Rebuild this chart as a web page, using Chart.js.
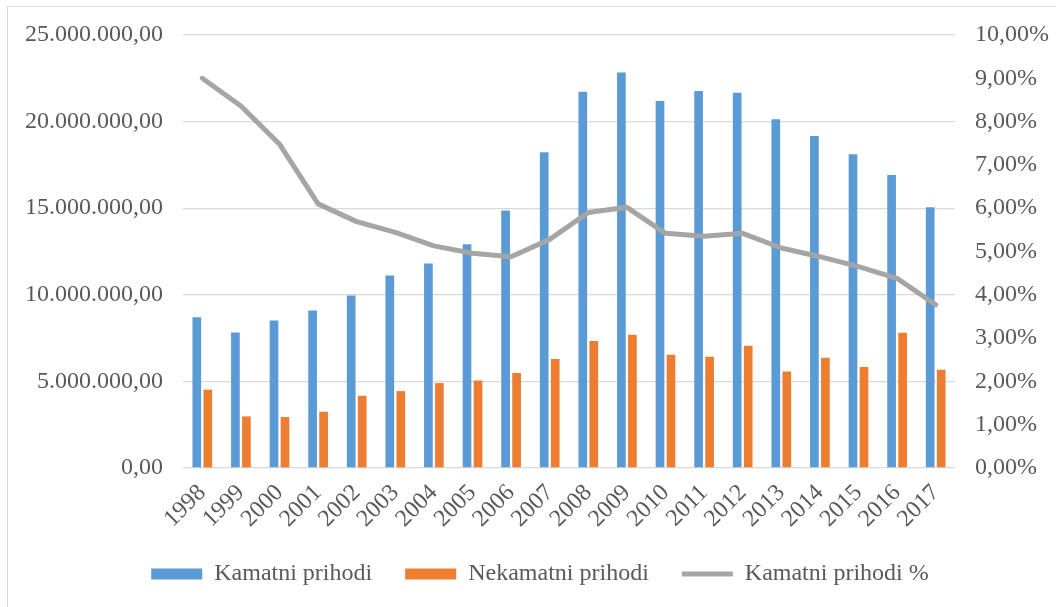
<!DOCTYPE html>
<html>
<head>
<meta charset="utf-8">
<script src="https://cdn.jsdelivr.net/npm/chart.js@4/dist/chart.umd.min.js"></script>
<style>
  html, body { margin: 0; padding: 0; background: #fff; overflow: hidden; }
  #frame { position: absolute; left: 7px; top: 6px; width: 1100px; height: 700px;
           border-left: 1.5px solid #d9d9d9; border-top: 1.5px solid #d9d9d9; }
  #wrap { position: absolute; left: 0; top: 0; width: 1056px; height: 607px; }
</style>
</head>
<body>
<div id="frame"></div>
<div id="wrap"><canvas id="chart-prihodi"></canvas></div>
<script>
const years = ['1998', '1999', '2000', '2001', '2002', '2003', '2004', '2005', '2006', '2007',
               '2008', '2009', '2010', '2011', '2012', '2013', '2014', '2015', '2016', '2017'];

const kamatniPrihodi = [8710000, 7820000, 8520000, 9090000, 9960000, 11110000, 11810000, 12920000, 14860000, 18230000,
                        21730000, 22830000, 21190000, 21770000, 21670000, 20140000, 19170000, 18120000, 16920000, 15060000];

const nekamatniPrihodi = [4520000, 2980000, 2940000, 3250000, 4170000, 4440000, 4900000, 5050000, 5480000, 6290000,
                          7330000, 7690000, 6540000, 6420000, 7060000, 5570000, 6360000, 5830000, 7810000, 5670000];

// share of interest income, in percent
const kamatniPrihodiPct = [9.00, 8.36, 7.48, 6.10, 5.69, 5.44, 5.13, 4.96, 4.88, 5.28,
                           5.90, 6.02, 5.42, 5.35, 5.42, 5.08, 4.88, 4.65, 4.38, 3.77];

const labelFont = { family: "'Liberation Serif', 'Times New Roman', serif", size: 24 };
const textColor = '#595959';

const fmtAmount = (v) => {
    const whole = Math.round(v).toString().replace(/\B(?=(\d{3})+(?!\d))/g, '.');
    return whole + ',00';
};
const fmtPct = (v) => v.toFixed(2).replace('.', ',') + '%';

new Chart(document.getElementById('chart-prihodi'), {
    type: 'bar',
    data: {
        labels: years,
        datasets: [
            {
                type: 'line',
                label: 'Kamatni prihodi %',
                data: kamatniPrihodiPct,
                yAxisID: 'yPct',
                borderColor: '#a5a5a5',
                backgroundColor: '#a5a5a5',
                borderWidth: 5,
                pointRadius: 0,
                tension: 0,
                borderCapStyle: 'round',
                borderJoinStyle: 'round',
                order: 0
            },
            {
                label: 'Kamatni prihodi',
                data: kamatniPrihodi,
                yAxisID: 'y',
                backgroundColor: '#5b9bd5',
                categoryPercentage: 0.57,
                barPercentage: 0.79,
                order: 1
            },
            {
                label: 'Nekamatni prihodi',
                data: nekamatniPrihodi,
                yAxisID: 'y',
                backgroundColor: '#ed7d31',
                categoryPercentage: 0.57,
                barPercentage: 0.79,
                order: 1
            }
        ]
    },
    options: {
        responsive: true,
        maintainAspectRatio: false,
        animation: false,
        layout: { padding: { top: 35, left: 24, right: 0, bottom: 11 } },
        plugins: {
            tooltip: { enabled: false },
            legend: {
                position: 'bottom',
                labels: {
                    font: labelFont,
                    color: textColor,
                    usePointStyle: true,
                    pointStyleWidth: 51,
                    boxHeight: 11,
                    padding: 33,
                    sort: (a, b) => b.datasetIndex === 0 ? -1 : (a.datasetIndex === 0 ? 1 : a.datasetIndex - b.datasetIndex),
                    generateLabels: (chart) => {
                        const items = Chart.defaults.plugins.legend.labels.generateLabels(chart);
                        items.forEach(it => {
                            if (it.datasetIndex === 0) {
                                it.pointStyle = 'line';
                                it.lineWidth = 5;
                                it.strokeStyle = '#a5a5a5';
                            } else {
                                it.pointStyle = 'rect';
                                it.lineWidth = 0;
                            }
                        });
                        return items;
                    }
                }
            }
        },
        scales: {
            x: {
                afterFit: (scale) => { scale.height = 61; },
                grid: { display: false, drawTicks: false },
                border: { display: false },
                ticks: {
                    font: labelFont,
                    color: textColor,
                    autoSkip: false,
                    maxRotation: 45,
                    minRotation: 45,
                    padding: 11
                }
            },
            y: {
                position: 'left',
                min: 0,
                max: 25000000,
                afterFit: (scale) => { scale.width = 159; },
                ticks: {
                    stepSize: 5000000,
                    font: labelFont,
                    color: textColor,
                    padding: 20,
                    callback: (v) => fmtAmount(v)
                },
                grid: { color: '#d9d9d9', lineWidth: 1.3, drawTicks: false },
                border: { display: false }
            },
            yPct: {
                position: 'right',
                min: 0,
                max: 10,
                afterFit: (scale) => { scale.width = 101; },
                ticks: {
                    stepSize: 1,
                    font: labelFont,
                    color: textColor,
                    padding: 20,
                    callback: (v) => fmtPct(v)
                },
                grid: { display: false, drawTicks: false },
                border: { display: false }
            }
        }
    }
});
</script>
</body>
</html>
